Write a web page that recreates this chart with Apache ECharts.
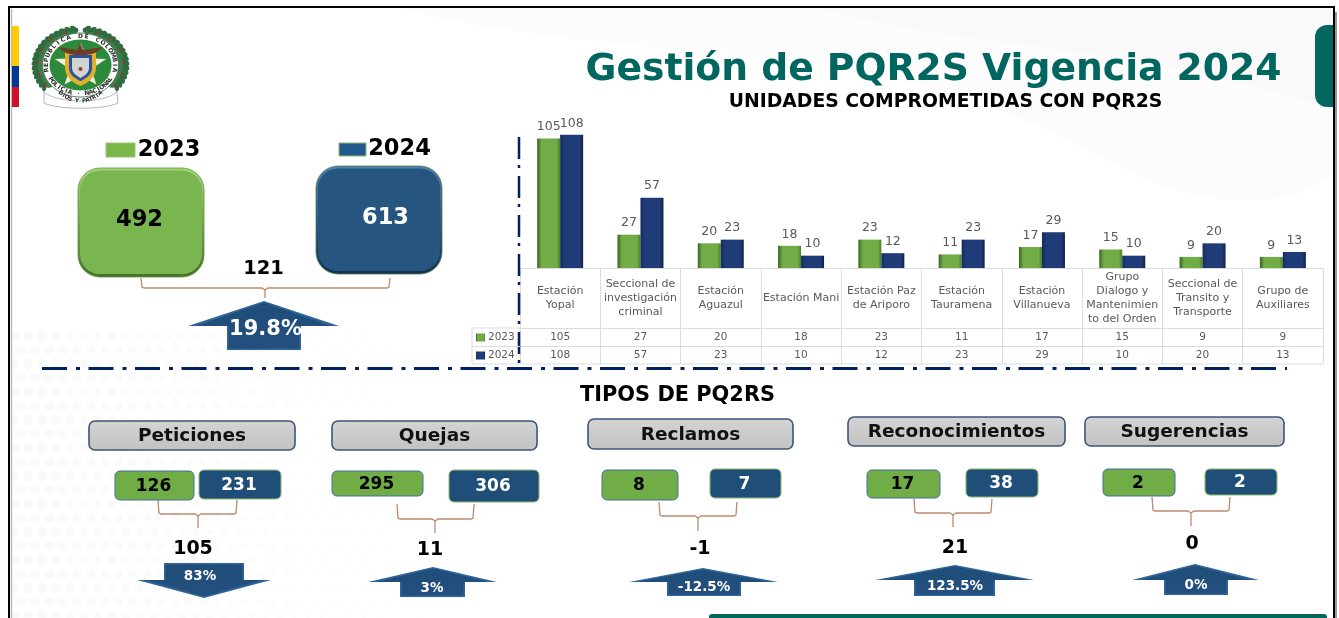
<!DOCTYPE html>
<html>
<head>
<meta charset="utf-8">
<style>
  html, body { margin: 0; padding: 0; background: #fff; }
  #chart { width: 1339px; height: 618px; }
</style>
<script src="https://cdn.jsdelivr.net/npm/echarts@6/dist/echarts.min.js"></script>
</head>
<body>
<div id="chart"></div>
<script>
// values
const years = ["2023", "2024"];
const yearTotals = [492, 613];
const totalDiff = "121";
const totalPct = "19.8%";

const units = [
  "Estación\nYopal",
  "Seccional de\ninvestigación\ncriminal",
  "Estación\nAguazul",
  "Estación Mani",
  "Estación Paz\nde Ariporo",
  "Estación\nTauramena",
  "Estación\nVillanueva",
  "Grupo\nDialogo y\nMantenimien\nto del Orden",
  "Seccional de\nTransito y\nTransporte",
  "Grupo de\nAuxiliares"
];
const units2023 = [105, 27, 20, 18, 23, 11, 17, 15, 9, 9];
const units2024 = [108, 57, 23, 10, 12, 23, 29, 10, 20, 13];

const typeNames = ["Peticiones", "Quejas", "Reclamos", "Reconocimientos", "Sugerencias"];
const types2023 = [126, 295, 8, 17, 2];
const types2024 = [231, 306, 7, 38, 2];
const typeDiffs = ["105", "11", "-1", "21", "0"];
const typePcts = ["83%", "3%", "-12.5%", "123.5%", "0%"];

// page layout of the five PQR cards, kept apart from the values
const typeBoxes = [
  { head: [89, 421, 206, 29], a: [115, 471, 79, 29], b: [199, 470, 82, 29], br: [158, 237, 500, 514, 198, 528], diff: [193, 548], arrow: [204, 598, 137, 271, 580, 164, 244, 563], pct: [200, 575] },
  { head: [332, 421, 205, 29], a: [332, 471, 91, 25], b: [449, 470, 90, 32], br: [397, 474, 504, 519, 435, 533], diff: [430, 549], arrow: [433, 567, 368, 497, 582, 400, 465, 597], pct: [432, 587] },
  { head: [588, 419, 205, 30], a: [602, 470, 76, 30], b: [710, 469, 71, 29], br: [659, 737, 502, 516, 698, 531], diff: [700, 548], arrow: [703, 568, 629, 778, 582, 667, 741, 596], pct: [704, 586] },
  { head: [848, 417, 217, 29], a: [867, 470, 73, 28], b: [966, 469, 72, 28], br: [914, 992, 499, 513, 953, 527], diff: [955, 547], arrow: [955, 565, 875, 1034, 580, 914, 995, 596], pct: [955, 585] },
  { head: [1085, 417, 199, 29], a: [1103, 469, 72, 27], b: [1205, 469, 72, 26], br: [1152, 1230, 497, 511, 1191, 526], diff: [1192, 543], arrow: [1195, 564, 1132, 1259, 580, 1164, 1228, 595], pct: [1196, 584] }
];

const FONT = "DejaVu Sans";
const TEAL = "#00665f";
const GREEN = "#70ad47";
const BLUE = "#1f4e79";
const BROWN = "#bd8a6d";
const NAVY = "#002060";

const els = [];

function txt(x, y, s, size, color, extra) {
  els.push({
    type: "text",
    z: 5,
    style: Object.assign({
      // bold DejaVu sits a bit high on its middle line
      x: x, y: y + 2, text: s, fontFamily: FONT, fontSize: size, fontWeight: "bold",
      fill: color, align: "center", verticalAlign: "middle"
    }, extra || {})
  });
}

function rect(x, y, w, h, r, fill, stroke, lw) {
  els.push({
    type: "rect", z: 3,
    shape: { x: x, y: y, width: w, height: h, r: r },
    style: { fill: fill, stroke: stroke || null, lineWidth: lw || 0 }
  });
}

function line(pts, color, width, dash) {
  els.push({
    type: "polyline", z: 2,
    shape: { points: pts },
    style: { stroke: color, lineWidth: width, fill: null, lineDash: dash || null }
  });
}

// graphic has no plain "path" type, so each svg path gets its own registered shape
let pathCount = 0;
function svgPath(d, z, style) {
  const name = "slidePath" + pathCount++;
  echarts.graphic.registerShape(name, echarts.graphic.extendPath(d, {}));
  els.push({ type: name, z: z, style: style });
}

function vGrad(a, b) {
  return new echarts.graphic.LinearGradient(0, 0, 0, 1, [{ offset: 0, color: a }, { offset: 1, color: b }]);
}

function edgeGrad(dark, mid, dark2) {
  return new echarts.graphic.LinearGradient(0, 0, 1, 0, [
    { offset: 0, color: dark },
    { offset: 0.2, color: mid },
    { offset: 0.85, color: mid },
    { offset: 1, color: dark2 }
  ]);
}

function bracket(b) {
  line([[b[0], b[2]], [b[0] + 1, b[3] - 1], [b[0] + 3, b[3]], [b[4] - 3, b[3]], [b[4], b[3] + 2], [b[4] + 3, b[3]], [b[1] - 3, b[3]], [b[1] - 1, b[3] - 1], [b[1], b[2]]], BROWN, 1.3);
  line([[b[4], b[3] + 2], [b[4], b[5]]], BROWN, 1.3);
}

function arrow(a) {
  const [tx, ty, wl, wr, wy, sl, sr, ey] = a;
  const d = ey > ty ? 1 : -1;
  const shape = (i) => [
    [tx, ty + d * i], [wr - i * 5, wy], [sr - i, wy], [sr - i, ey - d * i],
    [sl + i, ey - d * i], [sl + i, wy], [wl + i * 5, wy]
  ];
  els.push({ type: "polygon", z: 3, shape: { points: shape(0) }, style: { fill: "#2f659a" } });
  els.push({ type: "polygon", z: 3, shape: { points: shape(1.6) }, style: { fill: vGrad("#1f4e79", "#234f7e") } });
}

function numberBox(b, fill, edge) {
  rect(b[0], b[1], b[2], b[3], 5, fill, edge, 1);
}

function background() {
  // faint swooshes behind the title
  svgPath("M400 8 C600 60 820 40 1000 110 C1100 150 1160 205 1260 200 C1300 198 1320 185 1333 170 L1333 8 Z", 0, { fill: "#fcfcfc" });
  svgPath("M820 8 C960 50 1130 40 1333 110 L1333 8 Z", 0, { fill: "#f9f9f9" });
  // dot texture bottom left
  for (let row = 0; row < 21; row++) {
    for (let col = 0; col < 34; col++) {
      const x = 14 + col * 14 + (row % 2) * 7;
      const y = 336 + row * 14;
      const fade = 1 - col / 34;
      els.push({
        type: "circle", z: 0, silent: true,
        shape: { cx: x, cy: y, r: 4 * fade + 1 },
        style: { fill: "rgba(225,225,225," + (0.2 * fade).toFixed(2) + ")" }
      });
    }
  }
}

function frame() {
  line([[9, 618], [9, 7], [1334, 7], [1334, 618]], "#000", 2);
  line([[11.5, 618], [11.5, 9]], "#bbb", 1.5);
  line([[1336, 618], [1336, 12]], "#999", 2);
  // colour stripe
  rect(12, 26, 7, 40, 0, "#ffcb05");
  rect(12, 66, 7, 21, 0, "#003893");
  rect(12, 87, 7, 20, 0, "#ce1126");
  // teal tab and bottom bar
  els.push({ type: "rect", z: 3, shape: { x: 1315, y: 25, width: 18, height: 82, r: [12, 0, 0, 12] }, style: { fill: "#03665f" } });
  els.push({ type: "rect", z: 3, shape: { x: 709, y: 614, width: 618, height: 8, r: [3, 3, 0, 0] }, style: { fill: "#03665f" } });
}

function arcText(s, cx, cy, rx, ry, from, to, bottom, size) {
  const n = s.length;
  for (let i = 0; i < n; i++) {
    const th = (from + (to - from) * (n === 1 ? 0.5 : i / (n - 1))) * Math.PI / 180;
    const x = cx + rx * Math.sin(th);
    const y = bottom ? cy + ry * Math.cos(th) : cy - ry * Math.cos(th);
    els.push({
      type: "text", z: 6, x: x, y: y, rotation: bottom ? th : -th,
      style: { text: s[i], x: 0, y: 0, fontFamily: FONT, fontSize: size, fontWeight: "bold", fill: "#2b2b2b", align: "center", verticalAlign: "middle" }
    });
  }
}

function logo() {
  const cx = 80.5, cy = 65;
  // banner
  svgPath("M44 92 C58 104 103 104 117 92 L118 103 C104 110 58 110 44 103 Z", 3, { fill: "#fff", stroke: "#888", lineWidth: 0.6 });
  // wreath leaves
  for (let side = -1; side <= 1; side += 2) {
    for (let a = 8; a <= 128; a += 7) {
      const th = side * a * Math.PI / 180;
      for (let k = 0; k < 2; k++) {
        const rx = 41 + k * 4.5, ry = 33.5 + k * 3;
        els.push({
          type: "ellipse", z: 3,
          x: cx + rx * Math.sin(th), y: cy - ry * Math.cos(th), rotation: -th + side * (k ? 0.7 : -0.7),
          shape: { cx: 0, cy: 0, rx: 4.6, ry: 2.3 },
          style: { fill: k ? "#2f6b3e" : "#3d7d4c" }
        });
      }
      if (a % 21 === 1) {
        els.push({
          type: "circle", z: 4,
          shape: { cx: cx + 43 * Math.sin(th), cy: cy - 35 * Math.cos(th), r: 1.2 },
          style: { fill: "#c8202f" }
        });
      }
    }
  }
  els.push({ type: "ellipse", z: 4, shape: { cx: cx, cy: cy, rx: 38, ry: 32 }, style: { fill: "#fff", stroke: "#2f6b3e", lineWidth: 0.8 } });
  els.push({ type: "ellipse", z: 4, shape: { cx: cx, cy: cy, rx: 31, ry: 25.5 }, style: { fill: "#2c8a3d" } });
  // star
  const star = [];
  for (let i = 0; i < 10; i++) {
    const t = i * Math.PI / 5;
    const rr = i % 2 ? 0.42 : 1;
    star.push([cx + 27 * rr * Math.sin(t), cy + 1 - 23 * rr * Math.cos(t)]);
  }
  els.push({ type: "polygon", z: 5, shape: { points: star }, style: { fill: "#f4efd9" } });
  // shield with its tricolour edge
  svgPath("M65 51 L96 51 L96 68 C96 78 86 84 80.5 86 C75 84 65 78 65 68 Z", 5, { fill: "#e0b12d" });
  svgPath("M69 55 L92 55 L92 68 C92 75 85 79 80.5 81 C76 79 69 75 69 68 Z", 5, { fill: "#31509a" });
  svgPath("M72 58 L89 58 L89 68 C89 73 84 76 80.5 78 C77 76 72 73 72 68 Z", 5, { fill: "#cfd6d2" });
  els.push({ type: "circle", z: 5, shape: { cx: 80.5, cy: 69, r: 2 }, style: { fill: "#a8342f" } });
  // eagle
  svgPath("M80 43 L83 50 L103 47 C98 53 90 55 84 55 L77 55 C71 55 63 53 58 47 L77 50 Z", 5, { fill: "#6d3f24" });
  arcText("REPUBLICA DE COLOMBIA", cx, cy, 34.5, 28.7, -100, 100, false, 6);
  arcText("POLICIA · NACIONAL", cx, cy, 34.5, 28.7, -60, 60, true, 6);
  arcText("DIOS Y PATRIA", cx, cy, 32, 36, -38, 38, true, 5.6);
}

function totals() {
  // legend swatches
  rect(106, 143, 29, 14, 0, "#7ab648", "#9ac873", 1);
  rect(339, 143, 27, 13, 0, "#215a8a", "#8bb96a", 1);
  txt(169, 148, years[0], 22.5, "#000");
  txt(399.5, 147, years[1], 22.5, "#000");

  // bevelled boxes
  rect(78, 168, 126, 109, 22, vGrad("#a6d67a", "#47702a"), "#5f8f3c", 0.8);
  rect(80, 170.5, 122, 103.5, 20, "#7ab650");
  rect(316, 166, 126, 108, 22, vGrad("#4f80b0", "#12304f"), "#4c7f49", 0.8);
  rect(318, 168.5, 122, 102.5, 20, "#26567f");
  txt(139.5, 218, String(yearTotals[0]), 22.5, "#000");
  txt(385.5, 216.5, String(yearTotals[1]), 22.5, "#fff");

  txt(263.5, 267, totalDiff, 19.5, "#000");
  bracket([141, 390, 278, 288, 265, 298]);
  arrow([264, 301, 188, 339, 326, 227, 301, 350]);
  txt(265.5, 327.5, totalPct, 21, "#fff");
}

function pqrCards() {
  typeBoxes.forEach((t, i) => {
    const h = t.head;
    rect(h[0], h[1], h[2], h[3], 6, vGrad("#d4d4d4", "#c2c2c2"), "#3d5678", 1.6);
    txt(h[0] + h[2] / 2, h[1] + h[3] / 2 - 1, typeNames[i], 18.5, "#111");

    numberBox(t.a, GREEN, "#47709b");
    numberBox(t.b, BLUE, "#8bb96a");
    txt(t.a[0] + t.a[2] / 2 - 1, t.a[1] + t.a[3] / 2 - 1, String(types2023[i]), 17, "#000");
    txt(t.b[0] + t.b[2] / 2 - 1, t.b[1] + t.b[3] / 2 - 1, String(types2024[i]), 17, "#fff");

    bracket(t.br);
    txt(t.diff[0], t.diff[1] - 1, typeDiffs[i], 19, "#000");
    arrow(t.arrow);
    txt(t.pct[0], t.pct[1] - 1, typePcts[i], 13.5, "#fff");
  });
}

function texts() {
  txt(933.5, 68.5, "Gestión de PQR2S Vigencia 2024", 37.7, TEAL);
  txt(945.5, 100.5, "UNIDADES COMPROMETIDAS CON PQR2S", 18.8, "#000");
  txt(677.5, 393.5, "TIPOS DE PQ2RS", 20.9, "#000");
}

function dividers() {
  line([[42, 368.5], [1287, 368.5]], NAVY, 3, [25, 9, 4, 8.5]);
  line([[519, 137], [519, 364]], NAVY, 2.5, [22, 6, 3, 8]);
  // legend cell of the data table
  const c = "#dcdcdc";
  line([[520, 328], [472, 328], [472, 364], [1323, 364]], c, 1);
  line([[472, 346.5], [520, 346.5]], c, 1);
}

background();
frame();
logo();
totals();
pqrCards();
texts();
dividers();

const barLabel = {
  show: true, position: "top", distance: 5,
  fontFamily: FONT, fontSize: 12.5, color: "#595959"
};
const tableLine = { show: true, onZero: false, lineStyle: { color: "#dcdcdc", width: 1 } };

function tableAxis(offset, tickLen, values) {
  return {
    type: "category",
    position: "bottom",
    offset: offset,
    data: units,
    axisLine: tableLine,
    axisTick: { show: true, length: tickLen, lineStyle: { color: "#dcdcdc", width: 1 } },
    axisLabel: {
      interval: 0,
      margin: tickLen / 2,
      verticalAlign: "middle",
      fontFamily: FONT,
      fontSize: 10.5,
      color: "#595959",
      formatter: (v, i) => String(values[i])
    }
  };
}

const option = {
  animation: false,
  backgroundColor: "#fff",
  graphic: { elements: els },
  legend: {
    orient: "vertical",
    left: 476,
    top: 332,
    icon: "rect",
    itemWidth: 9,
    itemHeight: 8,
    itemGap: 7,
    selectedMode: false,
    padding: 0,
    data: years,
    textStyle: { fontFamily: FONT, fontSize: 10.5, color: "#595959", padding: [0, 0, 0, -2] }
  },
  grid: { left: 520, width: 803, top: 120, bottom: 350 },
  xAxis: [
    {
      type: "category",
      position: "bottom",
      data: units,
      axisLine: tableLine,
      axisTick: { show: true, length: 60, lineStyle: { color: "#dcdcdc", width: 1 } },
      axisLabel: {
        interval: 0,
        margin: 30,
        verticalAlign: "middle",
        align: "center",
        fontFamily: FONT,
        fontSize: 11,
        lineHeight: 14,
        color: "#595959"
      }
    },
    tableAxis(60, 18.5, units2023),
    tableAxis(78.5, 17.5, units2024)
  ],
  yAxis: { type: "value", min: 0, max: 120, show: false },
  series: [
    {
      name: years[0],
      type: "bar",
      xAxisIndex: 0,
      barWidth: 23,
      barGap: 0,
      data: units2023,
      label: barLabel,
      itemStyle: { color: edgeGrad("#3c6323", "#70ad47", "#4d7a30") }
    },
    {
      name: years[1],
      type: "bar",
      xAxisIndex: 0,
      barWidth: 23,
      data: units2024,
      label: barLabel,
      itemStyle: { color: edgeGrad("#172c5c", "#1f3b78", "#101f44") }
    }
  ]
};

const myChart = echarts.init(document.getElementById("chart"));
myChart.setOption(option);
</script>
</body>
</html>
